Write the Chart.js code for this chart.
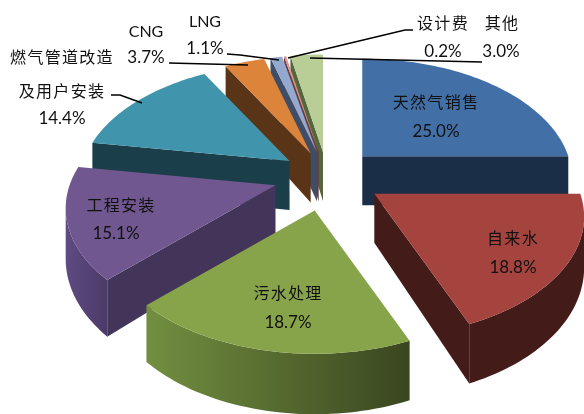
<!DOCTYPE html>
<html lang="zh">
<head>
<meta charset="utf-8">
<style>html,body{margin:0;padding:0;background:#fff}canvas{display:block}</style>
<script src="https://cdn.jsdelivr.net/npm/chart.js@4"></script>
</head>
<body>
<canvas id="c" width="584" height="414"></canvas>
<script>
// Revenue mix, in percent
const categories = ['天然气销售','自来水','污水处理','工程安装','燃气管道改造及用户安装','CNG','LNG','设计费','其他'];
const shares = [25.0,18.8,18.7,15.1,14.4,3.7,1.1,0.2,3.0];
const topColors = ['#4270A6','#A5433F','#88A44B','#70578F','#4095AD','#DC843A','#93A9D0','#D99694','#B9CD96'];
const sideColors = ['#1B2E47','#431B18','#4A5A28','#43345A','#1A3F4A','#5A3416','#3F4D66','#6B3A38','#56663C'];
const rimColors = [
  ['#1B2E47','#1B2E47'],['#431B18','#431B18'],['#728F40','#3A4620'],['#5F4B82','#4A3A68'],
  ['#1A3F4A','#1A3F4A'],['#5A3416','#5A3416'],['#3F4D66','#3F4D66'],['#6B3A38','#6B3A38'],['#56663C','#56663C']
];
const explodeOffsets = [50,45,45,45,45,45,45,45,45];

// Oblique view of the pie: back slices look smaller, front slices larger
const view = {cx:327, cy:176, rx:206, ry:116, persp:0.19, depth:49};
const paintOrder = [8,7,6,5,4,0,3,2,1];

const KAI = '"Noto Sans CJK SC"';
const LATIN = 'Lato, "Noto Sans"';
const labels = [
  {t:'天然气销售',x:436,y:102,f:KAI},{t:'25.0%',x:436,y:132,f:LATIN},
  {t:'自来水',x:513,y:238,f:KAI},{t:'18.8%',x:513,y:268,f:LATIN},
  {t:'污水处理',x:288,y:293,f:KAI},{t:'18.7%',x:288,y:323,f:LATIN},
  {t:'工程安装',x:121,y:205,f:KAI},{t:'15.1%',x:116,y:234,f:LATIN},
  {t:'燃气管道改造',x:62,y:57,f:KAI},{t:'及用户安装',x:62,y:91,f:KAI},{t:'14.4%',x:62,y:119,f:LATIN},
  {t:'CNG',x:146,y:32,f:LATIN,s:16},{t:'3.7%',x:146,y:58,f:LATIN},
  {t:'LNG',x:205,y:22,f:LATIN,s:16},{t:'1.1%',x:205,y:49,f:LATIN},
  {t:'设计费',x:443,y:23,f:KAI},{t:'0.2%',x:443,y:52,f:LATIN},
  {t:'其他',x:502,y:23,f:KAI},{t:'3.0%',x:501,y:52,f:LATIN}
];
const leaders = [
  [[227,54],[240,55],[279,60]],
  [[169,63],[248,65]],
  [[111,95],[120,95],[142,103]],
  [[413,30],[405,30],[288,58]],
  [[482,62],[310,58]]
];

function outline(arc){
  const d = arc.options.offset / arc.outerRadius;
  const mid = (arc.startAngle + arc.endAngle) / 2;
  const mx = Math.cos(mid), my = Math.sin(mid), mw = 1 - view.persp * my;
  const tx = view.cx + d * view.rx * mx / mw;
  const ty = view.cy + d * view.ry * my / mw;
  const pts = [{x:tx, y:ty, w:1}];
  const steps = Math.max(2, Math.ceil((arc.endAngle - arc.startAngle) * 40));
  for (let s = 0; s <= steps; s++){
    const a = arc.startAngle + (arc.endAngle - arc.startAngle) * s / steps;
    const w = 1 - view.persp * Math.sin(a);
    pts.push({x:tx + view.rx * Math.cos(a) / w, y:ty + view.ry * Math.sin(a) / w, w});
  }
  return pts;
}

// Fills the extruded band below a run of outline points as one shape
function fillWall(ctx, run, paint){
  ctx.beginPath();
  run.forEach((p, k) => k ? ctx.lineTo(p.x, p.y) : ctx.moveTo(p.x, p.y));
  for (let k = run.length - 1; k >= 0; k--) ctx.lineTo(run[k].x, run[k].y + view.depth / run[k].w);
  ctx.closePath();
  ctx.fillStyle = paint;
  ctx.fill();
}

function drawSlice(ctx, arc, i){
  const pts = outline(arc);
  const tip = pts[0], rim = pts.slice(1);
  const xs = rim.map(p => p.x);
  const grad = ctx.createLinearGradient(Math.min(...xs), 0, Math.max(...xs), 0);
  grad.addColorStop(0, rimColors[i][0]);
  grad.addColorStop(1, rimColors[i][1]);
  // radial walls that face the viewer
  if (rim[0].x < tip.x) fillWall(ctx, [tip, rim[0]], sideColors[i]);
  if (tip.x < rim[rim.length - 1].x) fillWall(ctx, [rim[rim.length - 1], tip], sideColors[i]);
  // outer wall: only the stretch where the rim runs right to left
  let run = [];
  for (let k = 0; k < rim.length; k++){
    const next = rim[k + 1];
    run.push(rim[k]);
    if (!next || next.x >= rim[k].x){
      if (run.length > 1) fillWall(ctx, run, grad);
      run = [];
    }
  }
  ctx.beginPath();
  pts.forEach((p, k) => k ? ctx.lineTo(p.x, p.y) : ctx.moveTo(p.x, p.y));
  ctx.closePath();
  ctx.fillStyle = topColors[i];
  ctx.fill();
}

const obliquePie = {
  id:'obliquePie',
  beforeDatasetDraw(chart, args){
    const ctx = chart.ctx;
    const arcs = chart.getDatasetMeta(args.index).data;
    ctx.save();
    paintOrder.forEach(i => drawSlice(ctx, arcs[i], i));
    ctx.strokeStyle = '#000';
    ctx.lineWidth = 1.5;
    leaders.forEach(line => {
      ctx.beginPath();
      line.forEach((p, k) => k ? ctx.lineTo(p[0], p[1]) : ctx.moveTo(p[0], p[1]));
      ctx.stroke();
    });
    ctx.fillStyle = '#111';
    ctx.textAlign = 'center';
    ctx.textBaseline = 'middle';
    labels.forEach(l => {
      const size = l.s || (l.f === KAI ? 16 : 17);
      ctx.font = size + 'px ' + l.f;
      ctx.letterSpacing = l.f === KAI ? '1.3px' : '0px';
      ctx.fillText(l.t, l.x, l.y);
    });
    ctx.restore();
    return false;
  }
};

new Chart(document.getElementById('c'), {
  type:'pie',
  data:{labels:categories, datasets:[{data:shares, backgroundColor:topColors, borderWidth:0, offset:explodeOffsets}]},
  options:{
    responsive:false, animation:false,
    layout:{padding:0},
    plugins:{legend:{display:false}, tooltip:{enabled:false}}
  },
  plugins:[obliquePie]
});
</script>
</body>
</html>
